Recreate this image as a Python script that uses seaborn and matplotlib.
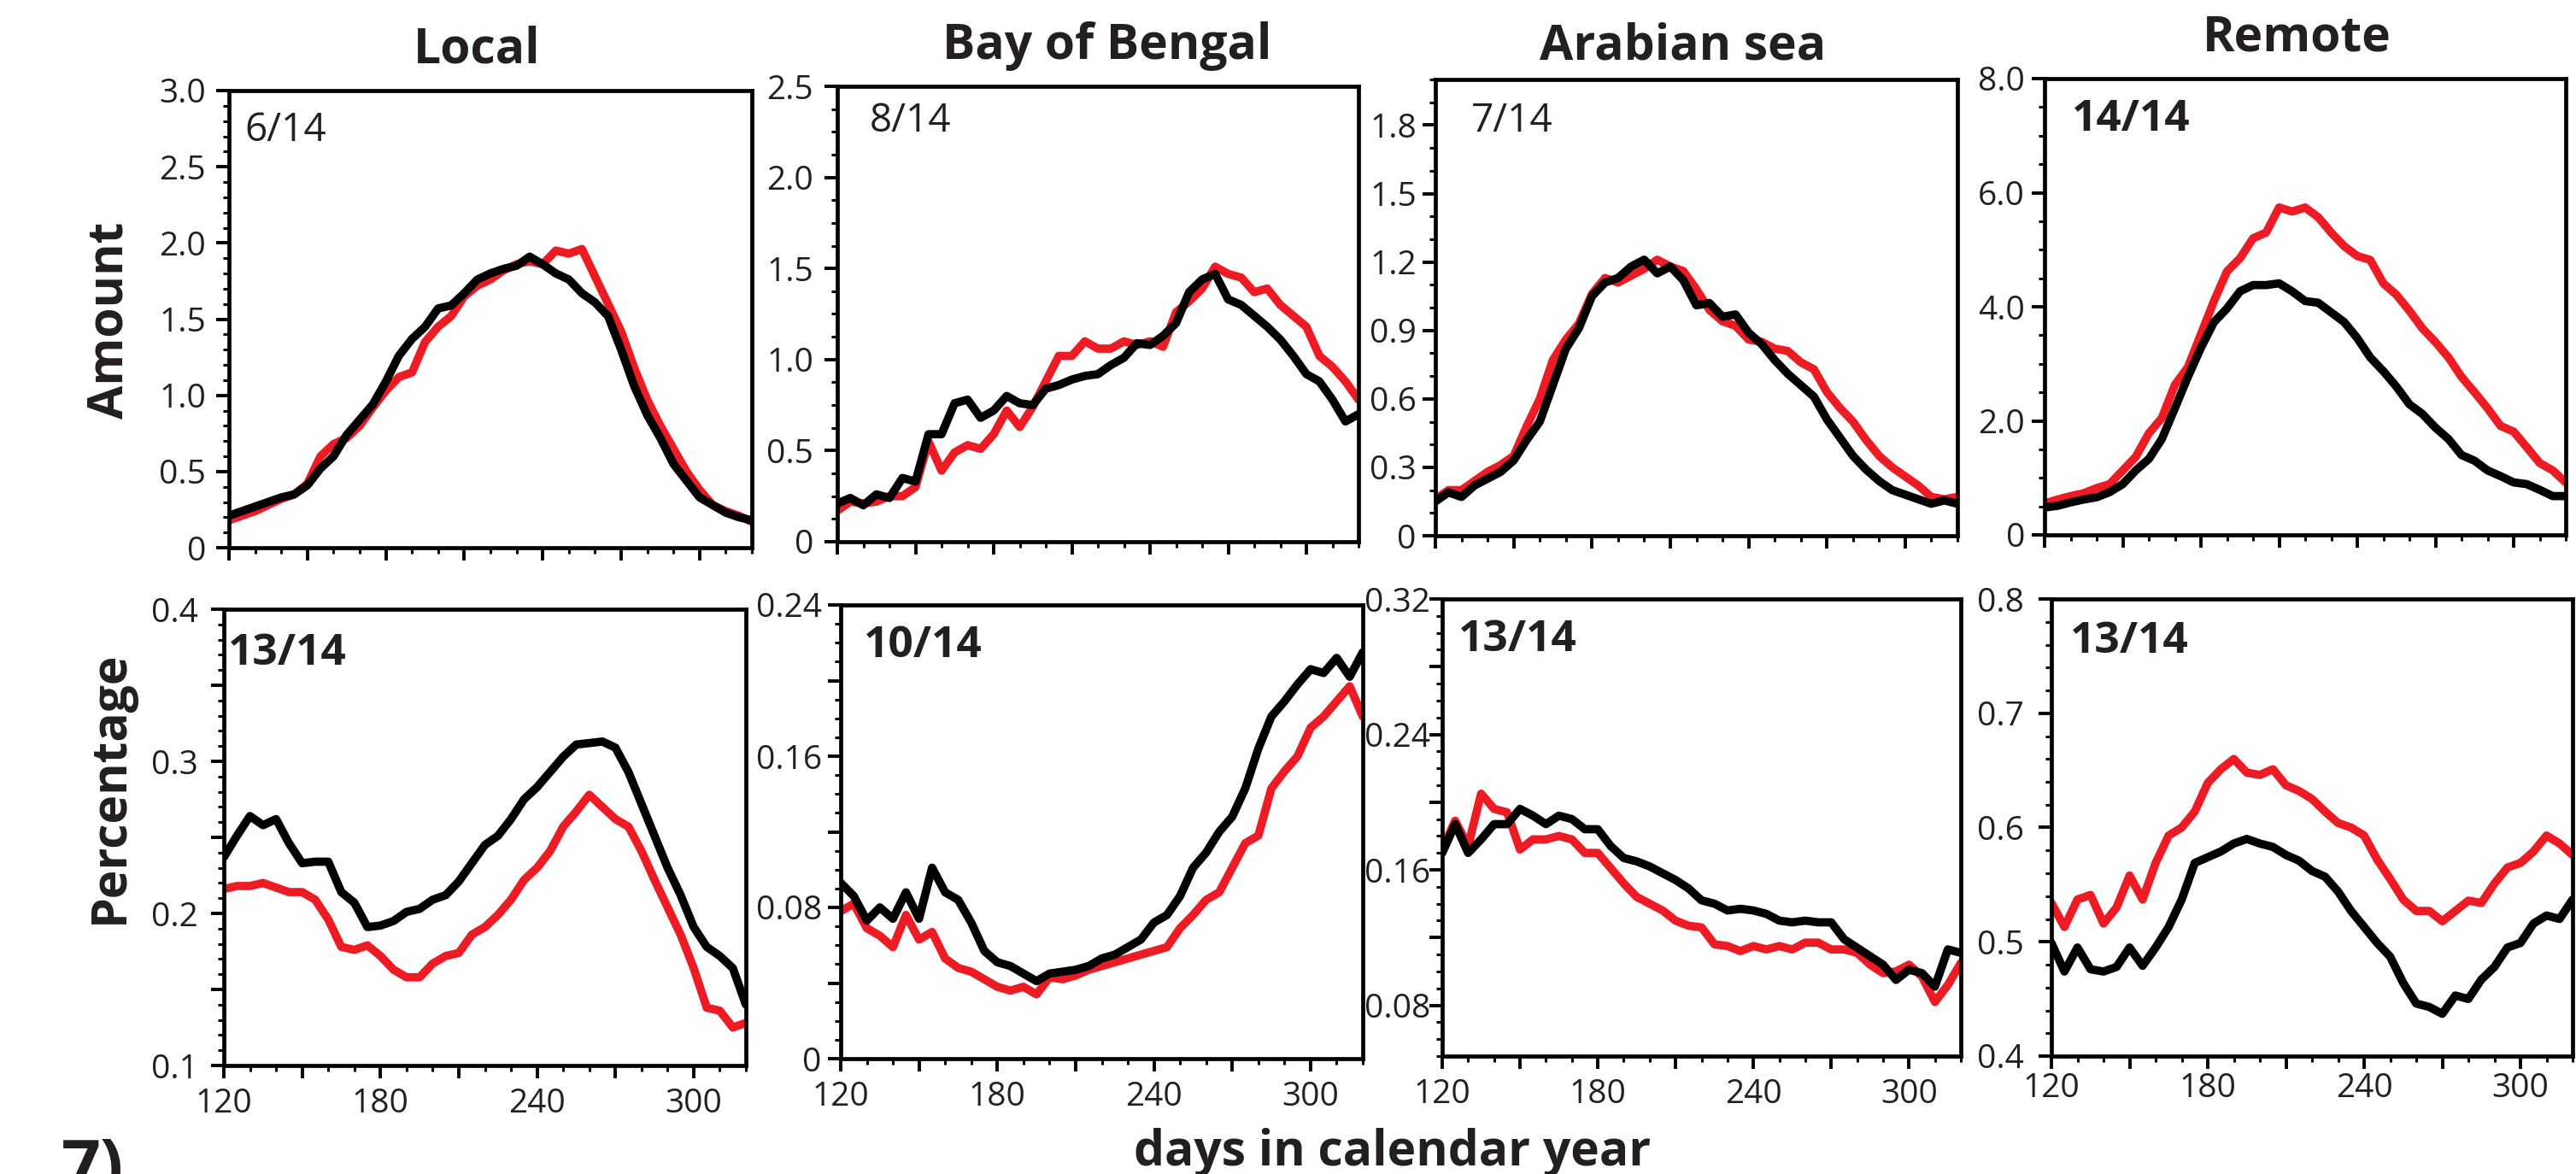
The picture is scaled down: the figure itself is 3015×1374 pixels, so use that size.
"""
Seasonal moisture source panels: amount (top row) and percentage (bottom row)
for four source regions, two simulations each (red vs black).
"""

import matplotlib

matplotlib.use("Agg")
import matplotlib.pyplot as plt
import seaborn as sns
from matplotlib.ticker import FuncFormatter, MultipleLocator

sns.set_theme(style="ticks")
plt.rcParams["font.family"] = ["Open Sans", "DejaVu Sans"]

W, H = 3015, 1374
TEXT = "#231F20"
RED = "#ED1C24"
BLACK = "#000000"

# ---------------------------------------------------------------- data
DAYS = list(range(120, 321, 5))

REGIONS = ["Local", "Bay of Bengal", "Arabian sea", "Remote"]
AMOUNT_COUNTS = ["6/14", "8/14", "7/14", "14/14"]
PERCENT_COUNTS = ["13/14", "10/14", "13/14", "13/14"]

local_amt_red = [0.18, 0.21, 0.24, 0.28, 0.32, 0.35, 0.42, 0.60, 0.68, 0.72,
                 0.80, 0.92, 1.03, 1.12, 1.15, 1.35, 1.45, 1.52, 1.65, 1.72,
                 1.76, 1.82, 1.86, 1.88, 1.86, 1.95, 1.93, 1.96, 1.78, 1.60,
                 1.42, 1.18, 0.97, 0.80, 0.65, 0.50, 0.38, 0.28, 0.24, 0.21,
                 0.17]
local_amt_black = [0.21, 0.24, 0.27, 0.30, 0.33, 0.35, 0.41, 0.52, 0.60, 0.74,
                   0.84, 0.94, 1.09, 1.26, 1.37, 1.45, 1.57, 1.59, 1.67, 1.76,
                   1.80, 1.83, 1.85, 1.91, 1.86, 1.80, 1.76, 1.67, 1.61, 1.52,
                   1.30, 1.06, 0.87, 0.72, 0.55, 0.44, 0.33, 0.28, 0.23, 0.20,
                   0.18]

bob_amt_red = [0.17, 0.22, 0.21, 0.22, 0.25, 0.25, 0.30, 0.55, 0.39, 0.49,
               0.53, 0.51, 0.59, 0.72, 0.63, 0.74, 0.88, 1.02, 1.02, 1.10,
               1.06, 1.06, 1.10, 1.08, 1.10, 1.07, 1.26, 1.32, 1.39, 1.51,
               1.47, 1.45, 1.37, 1.39, 1.30, 1.24, 1.18, 1.02, 0.96, 0.88,
               0.78]
bob_amt_black = [0.21, 0.24, 0.20, 0.26, 0.24, 0.35, 0.33, 0.59, 0.59, 0.76,
                 0.78, 0.68, 0.72, 0.80, 0.76, 0.75, 0.84, 0.86, 0.89, 0.91,
                 0.92, 0.97, 1.01, 1.09, 1.08, 1.13, 1.20, 1.37, 1.44, 1.47,
                 1.33, 1.30, 1.24, 1.18, 1.11, 1.02, 0.92, 0.88, 0.78, 0.66,
                 0.70]

ara_amt_red = [0.16, 0.20, 0.20, 0.24, 0.28, 0.31, 0.35, 0.48, 0.60, 0.77,
               0.86, 0.93, 1.06, 1.13, 1.11, 1.14, 1.17, 1.21, 1.18, 1.16,
               1.08, 0.99, 0.94, 0.92, 0.86, 0.85, 0.82, 0.81, 0.76, 0.73,
               0.63, 0.56, 0.50, 0.42, 0.35, 0.30, 0.26, 0.22, 0.17, 0.16,
               0.17]
ara_amt_black = [0.15, 0.19, 0.17, 0.22, 0.25, 0.28, 0.33, 0.42, 0.50, 0.66,
                 0.82, 0.91, 1.05, 1.11, 1.13, 1.18, 1.21, 1.15, 1.18, 1.12,
                 1.01, 1.02, 0.96, 0.97, 0.89, 0.84, 0.77, 0.71, 0.66, 0.61,
                 0.51, 0.43, 0.35, 0.29, 0.24, 0.20, 0.18, 0.16, 0.14, 0.155,
                 0.14]

rem_amt_red = [0.55, 0.62, 0.68, 0.73, 0.82, 0.89, 1.13, 1.37, 1.78, 2.05,
               2.63, 2.94, 3.52, 4.10, 4.62, 4.85, 5.20, 5.30, 5.74, 5.67,
               5.74, 5.57, 5.30, 5.06, 4.89, 4.82, 4.41, 4.21, 3.93, 3.62,
               3.38, 3.11, 2.77, 2.50, 2.22, 1.91, 1.81, 1.54, 1.26, 1.13,
               0.92]
rem_amt_black = [0.48, 0.51, 0.57, 0.62, 0.66, 0.75, 0.89, 1.13, 1.33, 1.68,
                 2.22, 2.77, 3.28, 3.73, 3.97, 4.27, 4.38, 4.38, 4.41, 4.27,
                 4.10, 4.07, 3.90, 3.73, 3.45, 3.11, 2.87, 2.60, 2.29, 2.12,
                 1.88, 1.68, 1.40, 1.30, 1.13, 1.03, 0.92, 0.89, 0.79, 0.68,
                 0.68]

local_pct_red = [0.216, 0.218, 0.218, 0.220, 0.217, 0.214, 0.214, 0.209, 0.196, 0.178,
                 0.176, 0.179, 0.172, 0.163, 0.158, 0.158, 0.167, 0.172, 0.174, 0.186,
                 0.191, 0.199, 0.209, 0.222, 0.230, 0.241, 0.257, 0.267, 0.278, 0.270,
                 0.262, 0.257, 0.241, 0.222, 0.204, 0.186, 0.164, 0.138, 0.136, 0.125,
                 0.128]
local_pct_black = [0.237, 0.251, 0.264, 0.258, 0.262, 0.246, 0.233, 0.234, 0.234, 0.214,
                   0.207, 0.191, 0.192, 0.195, 0.201, 0.203, 0.209, 0.212, 0.221, 0.233,
                   0.245, 0.251, 0.262, 0.275, 0.283, 0.293, 0.303, 0.311, 0.312, 0.313,
                   0.309, 0.293, 0.272, 0.251, 0.230, 0.212, 0.191, 0.178, 0.172, 0.164,
                   0.140]

bob_pct_red = [0.078, 0.082, 0.069, 0.065, 0.059, 0.076, 0.063, 0.067, 0.053, 0.048,
               0.046, 0.042, 0.038, 0.036, 0.038, 0.034, 0.043, 0.042, 0.044, 0.047,
               0.049, 0.051, 0.053, 0.055, 0.057, 0.059, 0.069, 0.076, 0.084, 0.088,
               0.101, 0.114, 0.118, 0.143, 0.152, 0.160, 0.175, 0.181, 0.189, 0.197,
               0.181]
bob_pct_black = [0.093, 0.086, 0.073, 0.080, 0.074, 0.088, 0.074, 0.101, 0.088, 0.084,
                 0.072, 0.057, 0.051, 0.049, 0.045, 0.041, 0.045, 0.046, 0.047, 0.049,
                 0.053, 0.055, 0.059, 0.063, 0.072, 0.076, 0.086, 0.101, 0.109, 0.120,
                 0.128, 0.143, 0.164, 0.181, 0.189, 0.198, 0.206, 0.204, 0.212, 0.202,
                 0.215]

ara_pct_red = [0.172, 0.189, 0.174, 0.205, 0.196, 0.194, 0.172, 0.178, 0.178, 0.180,
               0.178, 0.170, 0.170, 0.161, 0.152, 0.144, 0.140, 0.136, 0.130, 0.127,
               0.126, 0.116, 0.115, 0.112, 0.115, 0.113, 0.115, 0.113, 0.117, 0.117,
               0.113, 0.113, 0.111, 0.104, 0.099, 0.100, 0.104, 0.097, 0.082, 0.092,
               0.105]
ara_pct_black = [0.170, 0.187, 0.170, 0.178, 0.187, 0.187, 0.196, 0.192, 0.187, 0.192,
                 0.190, 0.184, 0.184, 0.174, 0.167, 0.165, 0.162, 0.158, 0.154, 0.149,
                 0.142, 0.140, 0.136, 0.137, 0.136, 0.134, 0.130, 0.129, 0.130, 0.129,
                 0.129, 0.119, 0.114, 0.109, 0.104, 0.095, 0.101, 0.099, 0.091, 0.113,
                 0.111]

rem_pct_red = [0.534, 0.513, 0.537, 0.541, 0.516, 0.530, 0.558, 0.537, 0.569, 0.593,
               0.600, 0.614, 0.639, 0.651, 0.660, 0.648, 0.646, 0.651, 0.637, 0.632,
               0.625, 0.614, 0.604, 0.600, 0.593, 0.572, 0.555, 0.537, 0.527, 0.527,
               0.518, 0.527, 0.536, 0.534, 0.551, 0.565, 0.569, 0.579, 0.593, 0.586,
               0.576]
rem_pct_black = [0.499, 0.474, 0.495, 0.476, 0.474, 0.478, 0.495, 0.479, 0.495, 0.513,
                 0.537, 0.569, 0.574, 0.579, 0.586, 0.590, 0.586, 0.583, 0.576, 0.571,
                 0.562, 0.557, 0.544, 0.527, 0.513, 0.499, 0.487, 0.464, 0.446, 0.443,
                 0.437, 0.453, 0.450, 0.467, 0.478, 0.495, 0.499, 0.516, 0.523, 0.520,
                 0.537]

AMOUNT_SERIES = [(local_amt_red, local_amt_black), (bob_amt_red, bob_amt_black),
                 (ara_amt_red, ara_amt_black), (rem_amt_red, rem_amt_black)]
PERCENT_SERIES = [(local_pct_red, local_pct_black), (bob_pct_red, bob_pct_black),
                  (ara_pct_red, ara_pct_black), (rem_pct_red, rem_pct_black)]

# ---------------------------------------------------------------- layout (pixels)
# (left, top, right, bottom) of each panel
TOP_BOXES = [(268, 106, 880, 641), (980, 101, 1590, 634),
             (1680, 93, 2291, 627), (2393, 92, 3003, 626)]
BOT_BOXES = [(262, 713, 873, 1247), (984, 708, 1595, 1239),
             (1688, 701, 2295, 1236), (2401, 701, 3011, 1236)]

# ylim, major step, minor step, label step, decimals, y label pad
TOP_AXES = [((0, 3.0), 0.5, 0.1, 0.5, 1, 8.5),
            ((0, 2.5), 0.5, 0.125, 0.5, 1, 9),
            ((0, 2.0), 0.3, 0.1, 0.3, 1, 5),
            ((0, 8.0), 2.0, 0.5, 2.0, 1, 5.5)]
BOT_AXES = [((0.1, 0.4), 0.05, 0.01, 0.1, 1, 10.5),
            ((0, 0.24), 0.04, 0.01, 0.08, 2, 5),
            ((0.05, 0.32), 0.04, 0.01, 0.08, 2, -1),
            ((0.4, 0.8), 0.1, 0.02, 0.1, 1, 12)]
BOT_XPAD = [8, 8, 8, 3]

TITLE_POS = [(558, 74), (1296, 69), (1970, 69), (2688, 59)]
AMOUNT_COUNT_POS = [(286, 165), (1018, 154), (1722, 154), (2425, 153)]
PERCENT_COUNT_POS = [(267, 778), (1011, 769), (1707, 762), (2423, 764)]


def fig_xy(x, y):
    """Pixel position (top-left origin) -> figure fraction."""
    return x / W, 1 - y / H


def make_axes(fig, box):
    left, top, right, bottom = box
    return fig.add_axes([left / W, 1 - bottom / H, (right - left) / W, (bottom - top) / H])


def step_formatter(step, decimals):
    """Label only the ticks that sit on multiples of `step`."""
    def fmt(v, pos):
        if abs(v) < 1e-9:
            return "0"
        r = v / step
        if abs(r - round(r)) > 1e-6:
            return ""
        return f"{v:.{decimals}f}"
    return FuncFormatter(fmt)


def style_axis(ax, spec, show_x, xpad=8):
    ylim, major, minor, label_step, decimals, ypad = spec
    ax.set_xlim(120, 320)
    ax.set_ylim(*ylim)
    ax.xaxis.set_major_locator(MultipleLocator(30))
    ax.xaxis.set_minor_locator(MultipleLocator(10))
    ax.yaxis.set_major_locator(MultipleLocator(major))
    ax.yaxis.set_minor_locator(MultipleLocator(minor))
    ax.yaxis.set_major_formatter(step_formatter(label_step, decimals))
    if show_x:
        ax.xaxis.set_major_formatter(step_formatter(60, 0))
    else:
        ax.xaxis.set_major_formatter(FuncFormatter(lambda v, p: ""))
    ax.set_xlabel("")
    ax.set_ylabel("")

    for side in ["top", "right", "bottom", "left"]:
        ax.spines[side].set_visible(True)
        ax.spines[side].set_linewidth(3.4)
        ax.spines[side].set_color(BLACK)

    ax.tick_params(which="major", direction="out", length=11, width=2.8,
                   color=BLACK, labelcolor=TEXT, labelsize=28)
    ax.tick_params(which="minor", direction="out", length=5, width=2.2, color=BLACK)
    ax.tick_params(axis="y", which="major", pad=ypad)
    ax.tick_params(axis="x", which="major", pad=xpad)
    ax.grid(False)


def draw_panel(ax, red, black):
    sns.lineplot(x=DAYS, y=red, color=RED, linewidth=7.0, ax=ax)
    sns.lineplot(x=DAYS, y=black, color=BLACK, linewidth=7.0, ax=ax)


def main():
    fig = plt.figure(figsize=(W / 100, H / 100), dpi=100)
    fig.patch.set_facecolor("white")

    for i in range(4):
        ax = make_axes(fig, TOP_BOXES[i])
        draw_panel(ax, *AMOUNT_SERIES[i])
        style_axis(ax, TOP_AXES[i], show_x=False)

        ax = make_axes(fig, BOT_BOXES[i])
        draw_panel(ax, *PERCENT_SERIES[i])
        style_axis(ax, BOT_AXES[i], show_x=True, xpad=BOT_XPAD[i])

        fig.text(*fig_xy(*TITLE_POS[i]), REGIONS[i], ha="center", va="baseline",
                 fontsize=41, fontweight="bold", color=TEXT)
        bold = AMOUNT_COUNTS[i] == "14/14"
        fig.text(*fig_xy(*AMOUNT_COUNT_POS[i]), AMOUNT_COUNTS[i], ha="left",
                 va="baseline", fontsize=37 if bold else 33,
                 fontweight="bold" if bold else "normal", color=TEXT)
        fig.text(*fig_xy(*PERCENT_COUNT_POS[i]), PERCENT_COUNTS[i], ha="left",
                 va="baseline", fontsize=37, fontweight="bold", color=TEXT)

    # Row labels and shared x label
    fig.text(*fig_xy(128, 375), "Amount", rotation=90, ha="center", va="center",
             fontsize=41, fontweight="bold", color=TEXT)
    fig.text(*fig_xy(129, 921), "Percentage", rotation=90, ha="center", va="center",
             fontsize=41, fontweight="bold", color=TEXT)
    fig.text(*fig_xy(1630, 1364), "days in calendar year", ha="center", va="baseline",
             fontsize=41, fontweight="bold", color=TEXT)
    # panel tag, partly cut by the lower edge as in the source figure
    fig.text(*fig_xy(72, 1330), "7)", ha="left", va="top",
             fontsize=58, fontweight="bold", color=TEXT)

    fig.savefig("out.png", dpi=100, facecolor="white")
    plt.close(fig)


if __name__ == "__main__":
    main()
